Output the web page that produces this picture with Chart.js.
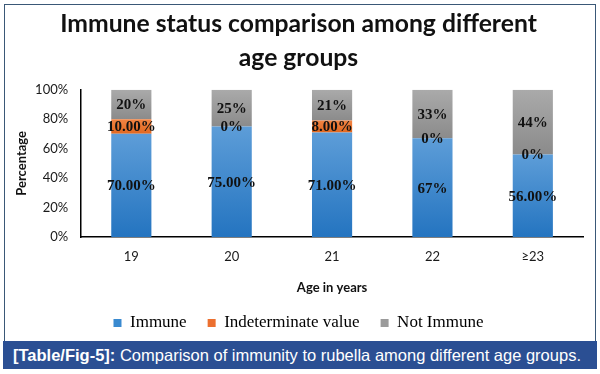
<!DOCTYPE html>
<html>
<head>
<meta charset="utf-8">
<script src="https://cdn.jsdelivr.net/npm/chart.js@4"></script>
<style>
  body { margin: 0; width: 600px; height: 374px; background: #fff; position: relative; overflow: hidden; }
  #wrap { position: absolute; left: 0; top: 0; width: 600px; height: 341px; }
  #frame { position: absolute; left: 4px; top: 4px; width: 590px; height: 337px; border: 1.5px solid #3a5877; border-bottom: none; pointer-events: none; }
  #caption { position: absolute; left: 3px; top: 341px; width: 594px; height: 28px; background: #2b4f93; color: #fff;
    font-family: "Liberation Sans", Arial, sans-serif; font-size: 16.5px; line-height: 28px; padding-left: 10px; box-sizing: border-box; white-space: nowrap; }
</style>
</head>
<body>
<div id="wrap"><canvas id="chart" width="600" height="341"></canvas></div>
<div id="frame"></div>
<div id="caption"><b>[Table/Fig-5]:</b> Comparison of immunity to rubella among different age groups.</div>
<script>
const ageGroups = ['19', '20', '21', '22', '≥23'];
const immune = [70, 75, 71, 67, 56];
const indeterminate = [10, 0, 8, 0, 0];
const notImmune = [20, 25, 21, 33, 44];
// labels as printed in the figure (formats differ per bar)
const immuneLabels = ['70.00%', '75.00%', '71.00%', '67%', '56.00%'];
const indeterminateLabels = ['10.00%', '0%', '8.00%', '0%', '0%'];
const notImmuneLabels = ['20%', '25%', '21%', '33%', '44%'];
const yTicks = [0, 20, 40, 60, 80, 100];

const seriesColors = [
  ['#5d9dd8', '#2474c0'],
  ['#f28444', '#e2681f'],
  ['#aaaaaa', '#8b8b8b']
];
const legendColors = ['#3a8ad0', '#ec7030', '#9b9b9b'];

// each segment gets its own top-to-bottom gradient, like the Excel original
function segmentFill(dsIndex) {
  return (ctx) => {
    const chart = ctx.chart;
    const y = chart.scales.y;
    if (!y || !chart.chartArea || ctx.type !== 'data') return legendColors[dsIndex];
    let start = 0;
    for (let d = 0; d < dsIndex; d++) start += chart.data.datasets[d].data[ctx.dataIndex];
    const end = start + chart.data.datasets[dsIndex].data[ctx.dataIndex];
    const top = y.getPixelForValue(end);
    const bottom = y.getPixelForValue(start);
    if (bottom - top < 1) return seriesColors[dsIndex][0];
    const g = chart.ctx.createLinearGradient(0, top, 0, bottom);
    g.addColorStop(0, seriesColors[dsIndex][0]);
    g.addColorStop(1, seriesColors[dsIndex][1]);
    return g;
  };
}

const barLabels = {
  id: 'barLabels',
  afterDatasetsDraw(chart) {
    const ctx = chart.ctx;
    ctx.save();
    ctx.font = 'bold 15px "Liberation Serif", "Times New Roman", serif';
    ctx.fillStyle = '#111';
    ctx.textAlign = 'center';
    ctx.textBaseline = 'middle';
    chart.data.datasets.forEach((ds, i) => {
      const meta = chart.getDatasetMeta(i);
      meta.data.forEach((bar, j) => {
        const { x, y, base } = bar.getProps(['x', 'y', 'base'], true);
        ctx.fillText(ds.labels[j], x, (y + base) / 2 + 1);
      });
    });
    ctx.restore();
  }
};

new Chart(document.getElementById('chart'), {
  type: 'bar',
  data: {
    labels: ageGroups,
    datasets: [
      { label: 'Immune', data: immune, labels: immuneLabels, backgroundColor: segmentFill(0) },
      { label: 'Indeterminate value', data: indeterminate, labels: indeterminateLabels, backgroundColor: segmentFill(1) },
      { label: 'Not Immune', data: notImmune, labels: notImmuneLabels, backgroundColor: segmentFill(2) }
    ]
  },
  options: {
    responsive: false,
    animation: false,
    datasets: { bar: { categoryPercentage: 1, barPercentage: 0.4, borderWidth: 0 } },
    layout: { padding: { left: 14, right: 17, top: 7.5, bottom: 0 } },
    plugins: {
      title: {
        display: true,
        text: ['Immune status comparison among different', 'age groups'],
        color: '#111',
        font: { family: 'Lato', size: 24.7, weight: 'bold', lineHeight: 1.37 },
        padding: { top: 0, bottom: 14.5 }
      },
      legend: {
        position: 'bottom',
        maxHeight: 47.5,
        labels: {
          color: '#111',
          boxWidth: 8,
          boxHeight: 8,
          padding: 21,
          font: { family: '"Liberation Serif", "Times New Roman", serif', size: 17 },
          generateLabels: (chart) => chart.data.datasets.map((ds, i) => ({
            text: ds.label, fillStyle: legendColors[i], strokeStyle: legendColors[i], lineWidth: 0, datasetIndex: i
          }))
        }
      },
      tooltip: { enabled: false }
    },
    scales: {
      x: {
        stacked: true,
        grid: { display: false, drawTicks: false },
        border: { display: true, color: '#000', width: 1.5 },
        ticks: { color: '#1a1a1a', padding: 12, font: { family: 'Lato', size: 13 } },
        title: { display: true, text: 'Age in years', color: '#111', font: { family: 'Lato', size: 13, weight: 'bold' }, padding: { top: 3.6, bottom: -2.3 } }
      },
      y: {
        stacked: true,
        min: 0,
        max: 100,
        afterBuildTicks: (axis) => { axis.ticks = yTicks.map(v => ({ value: v })); },
        grid: { display: false, drawTicks: false },
        border: { display: true, color: '#000', width: 1.5 },
        ticks: { color: '#1a1a1a', padding: 13, font: { family: 'Lato', size: 13 }, callback: (v) => v + '%' },
        title: { display: true, text: 'Percentage', color: '#111', font: { family: 'Lato', size: 13, weight: 'bold' }, padding: { top: 0, bottom: -7.5 } }
      }
    }
  },
  plugins: [barLabels]
});
</script>
</body>
</html>
